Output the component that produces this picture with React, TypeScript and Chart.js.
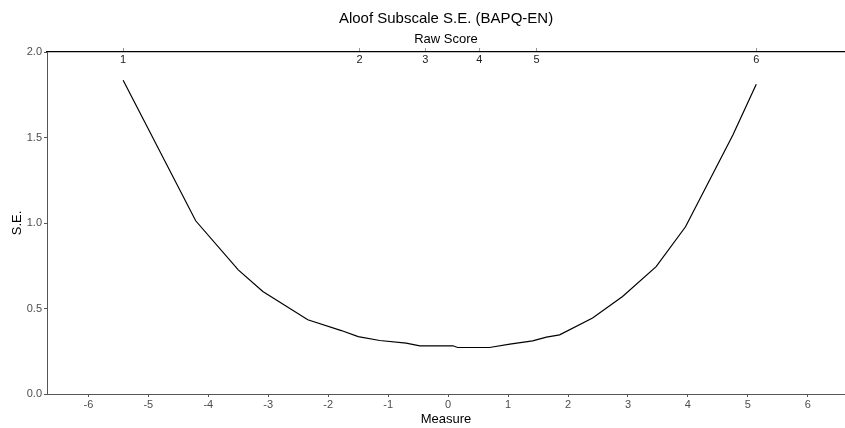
import { useEffect, useRef } from "react";
import { Chart, registerables } from "chart.js";

Chart.register(...registerables);

const measures = [-5.42, -4.21, -3.5, -3.09, -2.34, -1.78, -1.5, -1.14, -0.7, -0.47, 0.08, 0.16, 0.69, 1.03, 1.41, 1.64, 1.86, 2.41, 2.91, 3.47, 3.96, 4.75, 5.14];
const seValues = [1.835, 1.013, 0.726, 0.599, 0.434, 0.371, 0.336, 0.313, 0.298, 0.282, 0.282, 0.272, 0.272, 0.292, 0.311, 0.333, 0.346, 0.444, 0.57, 0.745, 0.978, 1.515, 1.811];

const rawScoreLabels = ["1", "2", "3", "4", "5", "6"];
const rawScoreMeasures = [-5.42, -1.475, -0.38, 0.52, 1.475, 5.14];

const measureTicks = [-6, -5, -4, -3, -2, -1, 0, 1, 2, 3, 4, 5, 6];
const seTicks = [0, 0.5, 1, 1.5, 2];

const X_MIN = -6.69;
const X_MAX = 6.62;

const FONT = "'Liberation Sans', Arial, sans-serif";

const rawLabelPlugin = {
  id: "rawLabels",
  afterDraw(chart: any) {
    const s = chart.scales.x2;
    const ctx = chart.ctx;
    ctx.save();
    ctx.fillStyle = "#222";
    ctx.font = `11px ${FONT}`;
    ctx.textAlign = "center";
    ctx.textBaseline = "middle";
    rawScoreMeasures.forEach((v, i) => {
      ctx.fillText(rawScoreLabels[i], s.getPixelForValue(v), chart.chartArea.top + 8);
    });
    ctx.restore();
  },
};

export default function App() {
  const ref = useRef<HTMLCanvasElement>(null);
  useEffect(() => {
    if (!ref.current) return;
    const chart = new Chart(ref.current, {
      type: "line",
      data: {
        datasets: [
          {
            data: measures.map((m, i) => ({ x: m, y: seValues[i] })),
            borderColor: "#000",
            borderWidth: 1.2,
            pointRadius: 0,
            tension: 0,
            fill: false,
            xAxisID: "x",
            yAxisID: "y",
          },
        ],
      },
      options: {
        animation: false,
        responsive: false,
        devicePixelRatio: 1,
        layout: { padding: 0 },
        plugins: {
          legend: { display: false },
          tooltip: { enabled: false },
          title: {
            display: true,
            text: "Aloof Subscale S.E. (BAPQ-EN)",
            color: "#000",
            font: { size: 15, family: FONT, weight: "normal" },
            padding: { top: 10, bottom: 0 },
            fullSize: false,
          },
        },
        scales: {
          x: {
            type: "linear",
            position: "bottom",
            min: X_MIN,
            max: X_MAX,
            afterBuildTicks: (s: any) => {
              s.ticks = measureTicks.map((v) => ({ value: v }));
            },
            afterFit: (s: any) => {
              s.height = 34;
            },
            ticks: {
              color: "#4d4d4d",
              font: { size: 11, family: FONT },
              padding: 1,
              maxRotation: 0,
              autoSkip: false,
            },
            grid: { drawOnChartArea: false, tickLength: 3, color: "#555" },
            border: { color: "#555", width: 1 },
            title: {
              display: true,
              text: "Measure",
              color: "#000",
              font: { size: 13, family: FONT },
              padding: { top: 0, bottom: 1 },
            },
          },
          x2: {
            type: "linear",
            position: "top",
            min: X_MIN,
            max: X_MAX,
            afterBuildTicks: (s: any) => {
              s.ticks = rawScoreMeasures.map((v) => ({ value: v }));
            },
            afterFit: (s: any) => {
              s.height = 24;
            },
            ticks: { display: false },
            grid: { drawOnChartArea: false, tickLength: 4, color: "#999" },
            border: { color: "#000", width: 1.3 },
            title: {
              display: true,
              text: "Raw Score",
              color: "#000",
              font: { size: 13, family: FONT },
              padding: { top: 4, bottom: 0 },
            },
          },
          y: {
            type: "linear",
            min: 0,
            max: 2,
            afterBuildTicks: (s: any) => {
              s.ticks = seTicks.map((v) => ({ value: v }));
            },
            afterFit: (s: any) => {
              s.width = 47;
            },
            ticks: {
              color: "#4d4d4d",
              font: { size: 11, family: FONT },
              padding: 2,
              callback: (v: any) => Number(v).toFixed(1),
            },
            grid: { drawOnChartArea: false, tickLength: 3, color: "#555" },
            border: { color: "#555", width: 1 },
            title: {
              display: true,
              text: "S.E.",
              color: "#000",
              font: { size: 13, family: FONT },
              padding: { top: 10, bottom: 0 },
            },
          },
        },
      } as any,
      plugins: [rawLabelPlugin],
    });
    return () => chart.destroy();
  }, []);
  return (
    <div style={{ position: "absolute", left: 0, top: 0, width: 845, height: 428 }}>
      <canvas ref={ref} width={845} height={428} style={{ display: "block" }} />
    </div>
  );
}
